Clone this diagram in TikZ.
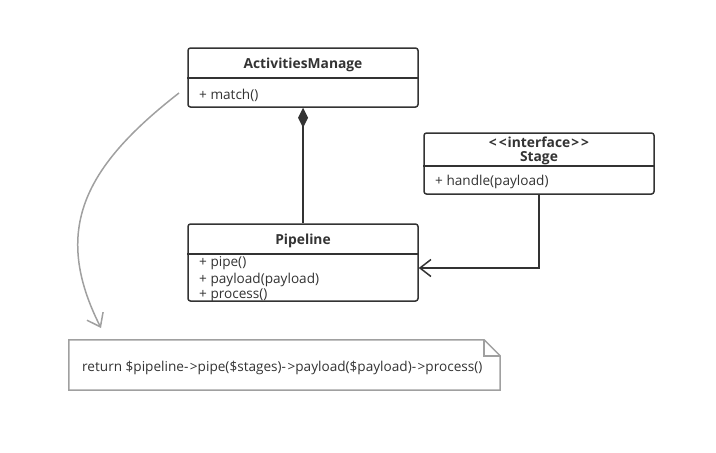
\documentclass[tikz,border=0pt]{standalone}
\usepackage{fontspec}
\setmainfont{Open Sans}
\usetikzlibrary{arrows.meta,calc}
\definecolor{ink}{HTML}{333333}
\definecolor{notegray}{HTML}{A0A0A0}
\newcommand{\arr}{-\kern1.5pt>}
\begin{document}
\begin{tikzpicture}[x=1pt,y=-1pt,
  umlbox/.style={draw=ink, line width=1.5pt, rounded corners=2.5pt, fill=white, inner sep=0pt},
  title/.style={font=\fontsize{13.8}{15}\selectfont\bfseries, text=ink, inner sep=0pt, yshift=-1.5pt},
  member/.style={font=\fontsize{13.6}{15}\selectfont, text=ink, anchor=west, inner sep=0pt, yshift=-1.5pt},
  conn/.style={draw=ink, line width=1.5pt}]
\useasboundingbox (0,0) rectangle (716,453);
% ActivitiesManage
\node[umlbox, minimum width=230pt, minimum height=59pt] (am) at (303,77.5) {};
\draw[ink, line width=1.5pt] (am.west |- 0,78) -- (am.east |- 0,78);
\node[title] (amt) at (303,63) {ActivitiesManage};
\node[member] (am1) at (199,94) {+ match()};
% Pipeline
\node[umlbox, minimum width=230pt, minimum height=77pt] (pl) at (303,262.5) {};
\draw[ink, line width=1.5pt] (pl.west |- 0,254) -- (pl.east |- 0,254);
\node[title] (plt) at (303,239) {Pipeline};
\node[member] (pl1) at (199,262) {+ pipe()};
\node[member] (pl2) at (199,278) {+ payload(payload)};
\node[member] (pl3) at (199,294) {+ process()};
% Stage
\node[umlbox, minimum width=230pt, minimum height=61pt] (st) at (539,163.5) {};
\draw[ink, line width=1.5pt] (st.west |- 0,166) -- (st.east |- 0,166);
\node[title] (stt1) at (539,141) {<\kern2pt<\kern1pt interface\kern1pt>\kern2pt>};
\node[title] (stt2) at (539,157) {Stage};
\node[member] (st1) at (435,180) {+ handle(payload)};
% connectors
\draw[conn, {Diamond[length=20pt,width=10pt]}-] (am.south) -- (pl.north);
\draw[conn, -{Straight Barb[length=11pt,width=17pt,line width=1.5pt]}] (st.south) |- ([yshift=-5.5pt]pl.east);
% note
\node[inner sep=0pt, minimum width=431pt, minimum height=50pt] (note) at (284.5,365) {};
\draw[notegray, line width=1.5pt] (note.north west) -- ([xshift=-16pt]note.north east) -- ([yshift=-16pt]note.north east) -- (note.south east) -- (note.south west) -- cycle;
\draw[notegray, line width=1.5pt] ([xshift=-16pt]note.north east) -- ([xshift=-16pt,yshift=-16pt]note.north east) -- ([yshift=-16pt]note.north east);
\node[member] (notet) at (82,366) {return \$pipeline\arr pipe(\$stages)\arr payload(\$payload)\arr process()};
% anchor curve
\coordinate (cs) at (179,93);
\coordinate (ce) at (101,328);
\draw[notegray, line width=1.5pt, -{Straight Barb[length=12pt,width=18pt,line width=1.5pt]}] (cs) .. controls (84,167) and (51.5,230) .. (ce);
\end{tikzpicture}
\end{document}
